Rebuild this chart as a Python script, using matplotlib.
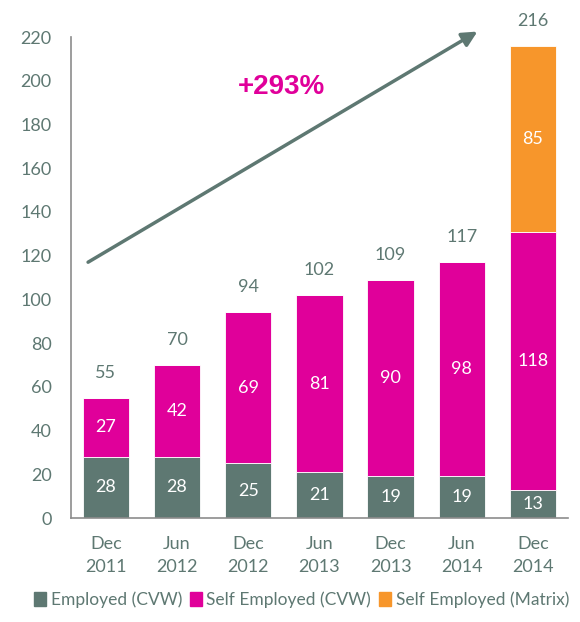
import matplotlib
matplotlib.use("Agg")
import matplotlib.pyplot as plt
import numpy as np
from matplotlib.patches import Patch

categories = ["Dec\n2011", "Jun\n2012", "Dec\n2012", "Jun\n2013", "Dec\n2013", "Jun\n2014", "Dec\n2014"]
employed_cvw = [28, 28, 25, 21, 19, 19, 13]
self_cvw = [27, 42, 69, 81, 90, 98, 118]
self_matrix = [0, 0, 0, 0, 0, 0, 85]
totals = [55, 70, 94, 102, 109, 117, 216]
yticks = [0, 20, 40, 60, 80, 100, 120, 140, 160, 180, 200, 220]
series_names = ["Employed (CVW)", "Self Employed (CVW)", "Self Employed (Matrix)"]
growth_label = "+293%"

C_GREY = "#5E7872"
C_MAG = "#E0009A"
C_ORA = "#F7962B"
C_TXT = "#5E7872"

plt.rcParams['font.family'] = ['Lato', 'DejaVu Sans']

fig = plt.figure(figsize=(5.8, 6.22), dpi=100)
ax = fig.add_axes([0.1224, 0.1672, 0.979 - 0.1224, 0.9405 - 0.1672])

x = np.arange(len(categories))
w = 0.65
ax.bar(x, employed_cvw, w, color=C_GREY, edgecolor="white", linewidth=0.6)
ax.bar(x, self_cvw, w, bottom=employed_cvw, color=C_MAG, edgecolor="white", linewidth=0.6)
b2 = np.array(employed_cvw) + np.array(self_cvw)
ax.bar(x, self_matrix, w, bottom=b2, color=C_ORA, edgecolor="white", linewidth=0.6)

fs = 13
for i in x:
    ax.text(i, employed_cvw[i] / 2, str(employed_cvw[i]), ha="center", va="center", color="white", fontsize=fs)
    ax.text(i, employed_cvw[i] + self_cvw[i] / 2, str(self_cvw[i]), ha="center", va="center", color="white", fontsize=fs)
    if self_matrix[i] > 0:
        ax.text(i, b2[i] + self_matrix[i] / 2, str(self_matrix[i]), ha="center", va="center", color="white", fontsize=fs)
    ax.text(i, totals[i] + 11.5, str(totals[i]), ha="center", va="center", color=C_TXT, fontsize=fs, clip_on=False)

ax.set_xlim(-0.49, 6.49)
ax.set_ylim(0, 220)
ax.set_yticks(yticks)
ax.set_yticklabels([str(t) for t in yticks], fontsize=fs, color=C_TXT)
ax.set_xticks(x)
ax.set_xticklabels(categories, fontsize=fs, color=C_TXT, linespacing=1.5)
ax.tick_params(axis="both", length=0)
ax.tick_params(axis="y", pad=14)
ax.tick_params(axis="x", pad=13)
for s in ["top", "right"]:
    ax.spines[s].set_visible(False)
ax.spines["left"].set_color("#8C8C8C")
ax.spines["bottom"].set_color("#8C8C8C")
ax.spines["left"].set_linewidth(1.2)
ax.spines["bottom"].set_linewidth(1.2)

ax.annotate("", xy=(5.22, 222.5), xytext=(-0.25, 117),
            arrowprops=dict(arrowstyle="-|>,head_length=0.9,head_width=0.45", color=C_GREY, lw=2.5, shrinkA=0, shrinkB=0),
            annotation_clip=False)
ax.text(2.47, 197, growth_label, ha="center", va="center", color=C_MAG, fontsize=20,
        fontweight="bold", family=["Liberation Sans", "DejaVu Sans"])

handles = [Patch(color=C_GREY), Patch(color=C_MAG), Patch(color=C_ORA)]
fig.legend(handles, series_names, loc="lower center", bbox_to_anchor=(0.52, -0.003), ncol=3, frameon=False,
           fontsize=12.5, handlelength=0.7, handleheight=0.9, handletextpad=0.25, columnspacing=0.45,
           labelcolor=C_TXT)

fig.savefig("out.png", dpi=100)
